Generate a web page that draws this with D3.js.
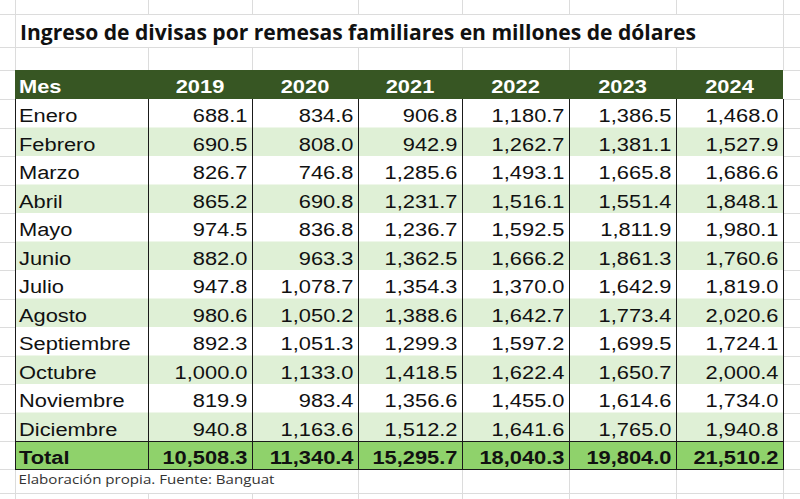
<!DOCTYPE html>
<html><head><meta charset="utf-8">
<script src="https://cdn.jsdelivr.net/npm/d3@7"></script>
<style>html,body{margin:0;padding:0;background:#fff;}svg{display:block;}</style>
</head><body>
<script>
// ---------- DATA ----------
const title = "Ingreso de divisas por remesas familiares en millones de dólares";
const footnote = "Elaboración propia. Fuente: Banguat";
const headerLabel = "Mes";
const totalLabel = "Total";
const months = ["Enero","Febrero","Marzo","Abril","Mayo","Junio","Julio","Agosto","Septiembre","Octubre","Noviembre","Diciembre"];
const years = ["2019","2020","2021","2022","2023","2024"];
const v2019 = [688.1,690.5,826.7,865.2,974.5,882.0,947.8,980.6,892.3,1000.0,819.9,940.8];
const v2020 = [834.6,808.0,746.8,690.8,836.8,963.3,1078.7,1050.2,1051.3,1133.0,983.4,1163.6];
const v2021 = [906.8,942.9,1285.6,1231.7,1236.7,1362.5,1354.3,1388.6,1299.3,1418.5,1356.6,1512.2];
const v2022 = [1180.7,1262.7,1493.1,1516.1,1592.5,1666.2,1370.0,1642.7,1597.2,1622.4,1455.0,1641.6];
const v2023 = [1386.5,1381.1,1665.8,1551.4,1811.9,1861.3,1642.9,1773.4,1699.5,1650.7,1614.6,1765.0];
const v2024 = [1468.0,1527.9,1686.6,1848.1,1980.1,1760.6,1819.0,2020.6,1724.1,2000.4,1734.0,1940.8];
const totals = [10508.3,11340.4,15295.7,18040.3,19804.0,21510.2];

const series = [v2019,v2020,v2021,v2022,v2023,v2024];

// ---------- LAYOUT ----------
const W = 800, H = 499;
const colWidths = [133,104,106,104,107,107,107];
const tableLeft = 15;
const colEdges = [tableLeft];
colWidths.forEach(w => colEdges.push(colEdges[colEdges.length-1] + w));
const tableRight = colEdges[colEdges.length-1];
const headerTop = 70, bodyTop = 99, bodyBottom = 441, totalBottom = 469;
const titleTop = 14, titleBottom = 47, footBottom = 493;
const fontMain = "'Liberation Sans', Arial, sans-serif";
const sx = 1.15;
const fmt = d3.format(",.1f");

const colors = {
  header: "#375623",
  alt: "#dff0d6",
  total: "#8fd26b",
  grid: "#dcdcdc",
  border: "#1a1a1a"
};

const y = d3.scaleBand().domain(months).range([bodyTop, bodyBottom]);
const xCol = d3.scaleOrdinal().domain(["Mes"].concat(years)).range(colEdges.slice(0,-1));
const colW = d => colEdges[xCol.domain().indexOf(d)+1] - xCol(d);

const svg = d3.select("body").append("svg").attr("width", W).attr("height", H);
svg.append("rect").attr("width", W).attr("height", H).attr("fill", "#fff");

// ---------- GRIDLINES ----------
const grid = svg.append("g").attr("stroke", colors.grid).attr("stroke-width", 1).attr("shape-rendering","crispEdges");
const hLines = [titleTop, titleBottom, headerTop, bodyTop].concat(months.map(m => y(m)+y.bandwidth()), [totalBottom, footBottom]);
// horizontal gridlines across whole width
grid.selectAll("line.h").data(hLines).join("line")
  .attr("x1", 0).attr("x2", W).attr("y1", d => Math.round(d)+0.5).attr("y2", d => Math.round(d)+0.5);
// vertical gridlines, hidden behind overflowing title/footnote text
colEdges.forEach((x, i) => {
  const segs = [];
  const inner = i > 0 && i < colEdges.length-1;
  // top
  if (inner) { segs.push([0, titleTop]); segs.push([titleBottom, headerTop]); }
  else segs.push([0, headerTop]);
  // bottom
  if (i === 1 || i === 2) segs.push([footBottom, H]);
  else segs.push([totalBottom, H]);
  segs.forEach(s => grid.append("line").attr("x1", x+0.5).attr("x2", x+0.5).attr("y1", s[0]).attr("y2", s[1]));
});

// ---------- TITLE ----------
svg.append("text").attr("x", 20).attr("y", 40)
  .attr("font-family", "'Open Sans', 'Noto Sans', sans-serif").attr("font-weight", 700).attr("font-size", 21)
  .attr("textLength", 676).attr("lengthAdjust", "spacingAndGlyphs")
  .attr("fill", "#111").text(title);

// ---------- HEADER ----------
svg.append("rect").attr("x", tableLeft).attr("y", headerTop).attr("width", tableRight-tableLeft).attr("height", bodyTop-headerTop).attr("fill", colors.header);

function addText(g, x, yb, txt, anchor, bold, fill) {
  g.append("text")
    .attr("transform", `translate(${x},${yb}) scale(${sx},1)`)
    .attr("text-anchor", anchor)
    .attr("font-family", fontMain).attr("font-size", 19)
    .attr("font-weight", bold ? 700 : 400)
    .attr("fill", fill).text(txt);
}
const tg = svg.append("g");
addText(tg, 19, bodyTop-5.7, headerLabel, "start", true, "#fff");
years.forEach(yr => addText(tg, xCol(yr) + colW(yr)/2, bodyTop-5.7, yr, "middle", true, "#fff"));

// ---------- BODY ----------
const body = svg.append("g");
body.selectAll("rect.row").data(months).join("rect")
  .attr("x", tableLeft).attr("width", tableRight-tableLeft)
  .attr("y", d => y(d)).attr("height", y.bandwidth())
  .attr("fill", (d,i) => i % 2 ? colors.alt : "#fff");

// total row
svg.append("rect").attr("x", tableLeft).attr("y", bodyBottom).attr("width", tableRight-tableLeft).attr("height", totalBottom-bodyBottom).attr("fill", colors.total);

// borders
const bd = svg.append("g").attr("stroke", colors.border).attr("stroke-width", 1).attr("shape-rendering","crispEdges");
colEdges.forEach(x => bd.append("line").attr("x1", x+0.5).attr("x2", x+0.5).attr("y1", bodyTop).attr("y2", totalBottom+0.5));
[bodyBottom, totalBottom].forEach(yy => bd.append("line").attr("x1", tableLeft).attr("x2", tableRight+1).attr("y1", yy+0.5).attr("y2", yy+0.5));

// body text
months.forEach((m, i) => {
  const yb = y(m) + y.bandwidth() - 5.3;
  addText(tg, 19, yb, m, "start", false, "#111");
  years.forEach((yr, j) => addText(tg, xCol(yr) + colW(yr) - 4.5, yb, fmt(series[j][i]), "end", false, "#111"));
});
svg.node().appendChild(tg.node());

// total text
addText(tg, 19, totalBottom-5, totalLabel, "start", true, "#111");
years.forEach((yr, j) => addText(tg, xCol(yr) + colW(yr) - 4.5, totalBottom-5, fmt(totals[j]), "end", true, "#111"));

// ---------- FOOTNOTE ----------
svg.append("text").attr("x", 18.5).attr("y", 484)
  .attr("font-family", "'Open Sans', 'Noto Sans', sans-serif").attr("font-size", 13)
  .attr("textLength", 256).attr("lengthAdjust", "spacingAndGlyphs")
  .attr("fill", "#333").text(footnote);
</script>
</body></html>
